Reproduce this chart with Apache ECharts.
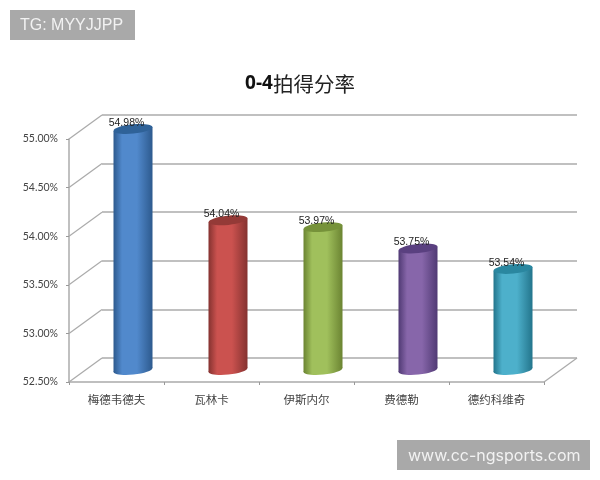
<!DOCTYPE html>
<html>
<head>
<meta charset="utf-8">
<style>html,body{margin:0;padding:0;background:#fff}#c{width:600px;height:480px}</style>
<script src="https://cdn.jsdelivr.net/npm/echarts@6/dist/echarts.min.js"></script>
</head>
<body>
<div id="c"></div>
<script>
const titleNumber = '0-4';
const titleWords = '拍得分率';
const categories = ['梅德韦德夫', '瓦林卡', '伊斯内尔', '费德勒', '德约科维奇'];
const values = [54.98, 54.04, 53.97, 53.75, 53.54];
const yTicks = [52.5, 53, 53.5, 54, 54.5, 55];
const topColors = ['#2f6298', '#943a37', '#76923a', '#5a4080', '#2a87a0'];
const edgeColors = ['#2d5a8e', '#853230', '#6b8432', '#503a74', '#23758c'];
const midColors = ['#5189cc', '#cb524f', '#a0c05c', '#8766aa', '#4db0cb'];

const DX = 33, DY = 24, BAR_W = 39, RY = 4.6, TILT = 0.1;
const lineColor = '#ababab';
const sans = '"Liberation Sans", Arial, sans-serif';
const cjk = '"Noto Sans CJK SC", sans-serif';

function renderBar(params, api) {
  const i = api.value(0), v = api.value(1);
  const top = api.coord([i, v]), base = api.coord([i, 52.5]);
  const cx = top[0] + DX / 2, ty = top[1] - DY / 2, by = base[1] - DY / 2;
  const hw = BAR_W / 2, sl = hw * Math.sin(TILT);
  const grad = new echarts.graphic.LinearGradient(0, 0, 1, 0, [
    { offset: 0, color: edgeColors[i] },
    { offset: 0.22, color: midColors[i] },
    { offset: 0.6, color: midColors[i] },
    { offset: 1, color: edgeColors[i] }
  ]);
  return {
    type: 'group',
    children: [
      { type: 'ellipse', x: cx, y: by, rotation: TILT, shape: { cx: 0, cy: 0, rx: hw, ry: RY }, style: { fill: grad } },
      { type: 'polygon', shape: { points: [[cx - hw, ty + sl], [cx + hw, ty - sl], [cx + hw, by - sl], [cx - hw, by + sl]] }, style: { fill: grad } },
      { type: 'ellipse', x: cx, y: ty, rotation: TILT, shape: { cx: 0, cy: 0, rx: hw, ry: RY }, style: { fill: topColors[i] } },
      { type: 'text', x: cx - 6.5, y: ty - 6, style: { text: v.toFixed(2) + '%', font: '10.5px ' + sans, fill: '#222', align: 'center', verticalAlign: 'middle' } }
    ]
  };
}

function renderDepth(params, api) {
  const cs = params.coordSys, p = api.coord([0, api.value(0)]);
  const y = p[1], x = cs.x;
  const children = [{ type: 'line', shape: { x1: x, y1: y, x2: x + DX, y2: y - DY }, style: { stroke: lineColor, lineWidth: 1.2 } }];
  if (api.value(0) === yTicks[0]) {
    const xr = cs.x + cs.width;
    children.push({ type: 'line', shape: { x1: xr, y1: y, x2: xr + DX, y2: y - DY }, style: { stroke: lineColor, lineWidth: 1.2 } });
  }
  return { type: 'group', children };
}

const chart = echarts.init(document.getElementById('c'), null, { renderer: 'canvas' });
chart.setOption({
  animation: false,
  backgroundColor: '#fff',
  title: {
    text: '{a|' + titleNumber + '}{b|' + titleWords + '}',
    left: 'center', top: 66,
    textStyle: {
      rich: {
        a: { fontFamily: '"Open Sans", sans-serif', fontWeight: 'bold', fontSize: 19, color: '#111', lineHeight: 26 },
        b: { fontFamily: cjk, fontWeight: 'normal', fontSize: 20.5, color: '#222', lineHeight: 26 }
      }
    }
  },
  grid: [
    { left: 69, right: 56, top: 139, bottom: 98 },
    { left: 102, right: 23, top: 115, bottom: 122 }
  ],
  xAxis: [
    {
      type: 'category', gridIndex: 0, data: categories,
      axisLine: { lineStyle: { color: lineColor, width: 1.5 } },
      axisTick: { show: true, length: 3, lineStyle: { color: '#999' } },
      axisLabel: { interval: 0, margin: 12, fontFamily: cjk, fontSize: 11.5, color: '#444' }
    },
    {
      type: 'category', gridIndex: 1, data: categories,
      axisLine: { show: false }, axisTick: { show: false }, axisLabel: { show: false }
    }
  ],
  yAxis: [
    {
      type: 'value', gridIndex: 0, min: 52.5, max: 55, interval: 0.5,
      axisLine: { show: true, lineStyle: { color: lineColor, width: 1.5 } },
      axisTick: { show: true, length: 3, lineStyle: { color: '#999' } },
      splitLine: { show: false },
      axisLabel: { margin: 11, fontFamily: 'Lato, sans-serif', fontSize: 10.5, color: '#444', formatter: v => v.toFixed(2) + '%' }
    },
    {
      type: 'value', gridIndex: 1, min: 52.5, max: 55, interval: 0.5,
      axisLine: { show: false }, axisTick: { show: false }, axisLabel: { show: false },
      splitLine: { show: true, lineStyle: { color: lineColor, width: 1.5 } }
    }
  ],
  series: [
    {
      type: 'custom', xAxisIndex: 0, yAxisIndex: 0, z: 1, silent: true, clip: false,
      data: yTicks.map(v => [v]), encode: { y: 0 }, renderItem: renderDepth
    },
    {
      type: 'custom', xAxisIndex: 0, yAxisIndex: 0, z: 5, silent: true, clip: false,
      data: values.map((v, i) => [i, v]), encode: { x: 0, y: 1 }, renderItem: renderBar
    }
  ],
  graphic: [
    { type: 'rect', left: 10, top: 10, shape: { width: 125, height: 30 }, style: { fill: '#a9a9a9' } },
    { type: 'text', left: 20, top: 18, style: { text: 'TG: MYYJJPP', font: '16px ' + sans, fill: '#f2f2f2' } },
    { type: 'rect', left: 397, top: 440, shape: { width: 193, height: 30 }, style: { fill: '#a9a9a9' } },
    { type: 'text', left: 408, top: 448, style: { text: 'www.cc-ngsports.com', font: '16px Inter, ' + sans, fill: '#f2f2f2' } }
  ]
});
</script>
</body>
</html>
